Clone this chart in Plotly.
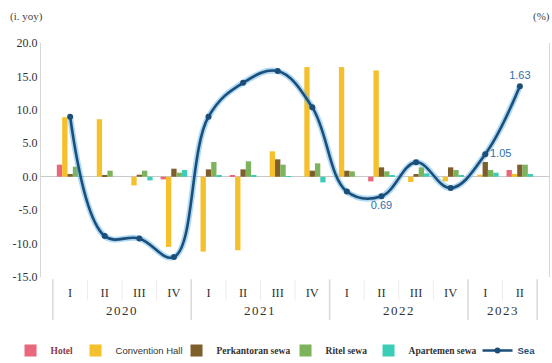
import plotly.graph_objects as go

# Quarterly periods
years = ["2020"] * 4 + ["2021"] * 4 + ["2022"] * 4 + ["2023"] * 2
quarters = ["I", "II", "III", "IV"] * 3 + ["I", "II"]

# Growth by property segment (i. yoy), left axis
hotel       = [1.8, 0.0, 0.0, -0.4, 0.0, 0.2, 0.0, 0.0, 0.0, -0.7, 0.0, 0.0, 0.0, 1.0]
convention  = [8.9, 8.6, -1.3, -10.5, -11.2, -11.0, 3.8, 16.4, 16.4, 15.9, -0.8, -0.7, 0.3, 0.4]
perkantoran = [0.4, 0.2, 0.3, 1.2, 1.1, 1.1, 2.6, 0.9, 0.9, 1.4, 0.4, 1.4, 2.2, 1.8]
ritel       = [1.5, 0.9, 0.9, 0.6, 2.2, 2.3, 1.8, 2.0, 0.8, 0.8, 1.4, 1.0, 1.0, 1.8]
apartemen   = [0.1, 0.0, -0.55, 1.0, 0.2, 0.2, 0.1, -0.85, 0.0, 0.2, 0.5, 0.2, 0.6, 0.4]

# Real estate growth (%), right axis
sea = [1.37, 0.35, 0.33, 0.17, 1.37, 1.66, 1.76, 1.45, 0.73, 0.69, 0.98, 0.76, 1.05, 1.63]
sea_labels = ["", "", "", "", "", "", "", "", "", "0.69", "", "", "1.05", "1.63"]
sea_label_pos = ["top center"] * 9 + ["bottom center", "top center", "top center",
                                       "middle right", "top center"]

left_ticks = [-15, -10, -5, 0, 5, 10, 15, 20]

# one unique category per quarter, labelled by its quarter numeral
keys = [f"{y} {q}" for y, q in zip(years, quarters)]
serif = "Liberation Serif"
sans = "Liberation Sans"

fig = go.Figure()

# (legend label, values, colour, legend slot width)
bar_series = [
    ("<span style='color:#8a3a4e'><b>Hotel</b></span>", hotel, "#e9677b", 20),
    ("<span style='font-family:Liberation Sans'>Convention Hall</span>", convention, "#f4c02b", 56),
    ("<b>Perkantoran sewa</b>", perkantoran, "#7d5f2c", 64),
    ("<b>Ritel sewa</b>", ritel, "#7cb35c", 38),
    ("<b>Apartemen sewa</b>", apartemen, "#3ccdb6", 64),
]
for name, vals, color, lw in bar_series:
    fig.add_trace(go.Bar(x=keys, y=vals, name=name, marker_color=color,
                         marker_line_width=0, yaxis="y", legendwidth=lw))

# soft halo under the line
fig.add_trace(go.Scatter(x=keys, y=sea, yaxis="y2", mode="lines",
                         line=dict(color="rgba(110,185,235,0.55)", width=6,
                                   shape="spline", smoothing=1.1),
                         showlegend=False, hoverinfo="skip"))
fig.add_trace(go.Scatter(x=keys, y=sea, yaxis="y2",
                         name="<span style='font-family:Liberation Sans;color:#1b4f7a'><b>Sea</b></span>",
                         mode="lines+markers+text", legendwidth=18,
                         line=dict(color="#1b4f7a", width=2.6,
                                   shape="spline", smoothing=1.1),
                         marker=dict(color="#1b4f7a", size=6),
                         text=sea_labels, textposition=sea_label_pos,
                         textfont=dict(family=sans, size=11, color="#2f6fa8")))

# quarter separators below the axis, taller ones between years
shapes = []
for i in range(len(keys) + 1):
    year_edge = i == 0 or i == len(keys) or years[i] != years[i - 1]
    shapes.append(dict(type="line", xref="x", yref="paper",
                       x0=i - 0.5, x1=i - 0.5,
                       y0=-0.01, y1=-0.184 if year_edge else -0.1,
                       line=dict(color="#d9d9d9" if year_edge else "#ececec",
                                 width=1.5 if year_edge else 1)))

# year labels centred under their quarters
annotations = []
for yr in dict.fromkeys(years):
    idx = [i for i, y in enumerate(years) if y == yr]
    annotations.append(dict(text=f"<span style='letter-spacing:1.5px'>{yr}</span>",
                            xref="x", yref="paper", x=sum(idx) / len(idx), y=0,
                            yshift=-43, showarrow=False,
                            font=dict(family=serif, size=13, color="#333333")))
annotations += [
    dict(text="(i. yoy)", xref="paper", yref="paper", x=-0.065, y=1.0,
         xanchor="left", yanchor="bottom", yshift=18, showarrow=False,
         font=dict(family=serif, size=11, color="#444444")),
    dict(text="(%)", xref="paper", yref="paper", x=1.006, y=1.0,
         xanchor="right", yanchor="bottom", yshift=18, showarrow=False,
         font=dict(family=serif, size=11, color="#444444")),
]

fig.update_layout(
    width=552, height=363,
    margin=dict(l=41, r=3, t=43, b=86, autoexpand=False),
    paper_bgcolor="white", plot_bgcolor="white",
    barmode="group", bargap=0.23, bargroupgap=0.0,
    font=dict(family=serif, size=12, color="#333333"),
    showlegend=True,
    legend=dict(orientation="h", x=-0.06, xanchor="left", y=-0.252, yanchor="top",
                font=dict(family=serif, size=9.5, color="#333333"),
                itemwidth=30, tracegroupgap=0, traceorder="normal"),
    xaxis=dict(type="category", categoryorder="array", categoryarray=keys,
               tickmode="array", tickvals=keys, ticktext=quarters,
               showline=False, showgrid=False, ticks="", ticklabelstandoff=6,
               tickfont=dict(family=serif, size=12.5, color="#333333")),
    yaxis=dict(range=[-15, 20], tickvals=left_ticks,
               ticktext=[f"{v:.1f}" for v in left_ticks],
               showgrid=False, zeroline=True, zerolinecolor="#c8c8c8",
               zerolinewidth=1, showline=True, linecolor="#d6d6d6",
               ticks="", tickfont=dict(family=serif, size=12, color="#333333")),
    yaxis2=dict(range=[0, 2], overlaying="y", side="right", showgrid=False,
                zeroline=False, showticklabels=False, showline=True,
                linecolor="#d6d6d6", ticks=""),
    shapes=shapes,
    annotations=annotations,
)

fig.write_html("out.html")
